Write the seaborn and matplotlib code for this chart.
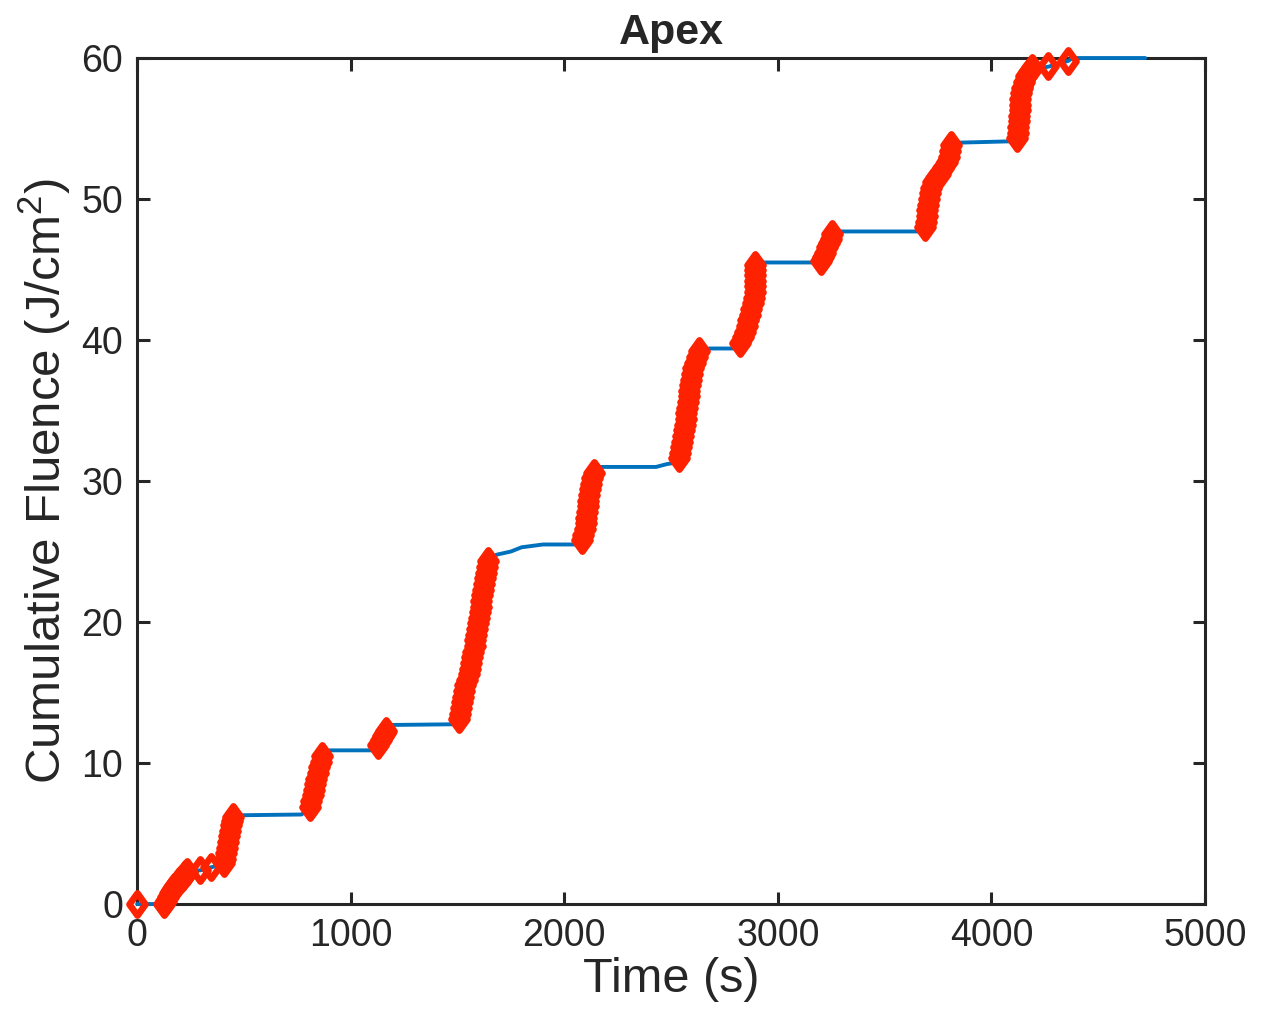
import numpy as np
import pandas as pd
import matplotlib
matplotlib.use("Agg")
import matplotlib.pyplot as plt
from matplotlib.path import Path
import seaborn as sns

# curva acumulada (linha azul)
t_line = [0, 120, 230, 300, 345, 400, 450, 500, 770, 810, 870, 900, 1120, 1165,
          1190, 1490, 1500, 1650, 1690, 1750, 1800, 1900, 2070, 2085, 2140, 2160,
          2430, 2480, 2520, 2540, 2640, 2680, 2800, 2830, 2910, 2940, 3180, 3200,
          3255, 3280, 3660, 3690, 3815, 3850, 4110, 4125, 4210, 4270, 4360, 4380, 4720]
f_line = [0, 0, 2.3, 2.4, 2.6, 2.8, 6.3, 6.3, 6.35, 6.8, 10.7, 10.9, 10.9, 12.3,
          12.7, 12.75, 13.0, 24.6, 24.8, 25.0, 25.3, 25.5, 25.5, 25.6, 30.9, 31.0,
          31.0, 31.2, 31.3, 31.5, 39.3, 39.4, 39.4, 39.5, 45.5, 45.5, 45.5, 45.7,
          47.5, 47.7, 47.7, 48.0, 53.9, 54.0, 54.1, 54.3, 59.2, 59.4, 59.8, 60.0, 60.0]

# pulsos (marcadores vermelhos)
t_pulse = [0,
           125, 135, 145, 155, 165, 175, 185, 195, 205, 215, 225, 235,
           295, 345,
           405, 410, 415, 420, 425, 430, 435, 440, 445, 450,
           810, 815, 822, 828, 832, 838, 845, 852, 860, 868,
           1130, 1140, 1150, 1160, 1165,
           1505, 1510, 1515, 1520, 1525, 1530, 1537, 1545, 1552, 1558, 1565, 1570,
           1575, 1580, 1584, 1588, 1592, 1596, 1600, 1604, 1608, 1612, 1616, 1620,
           1625, 1630, 1635, 1640, 1645,
           2085, 2090, 2095, 2100, 2103, 2106, 2110, 2113, 2117, 2120, 2125, 2130, 2137,
           2535, 2540, 2545, 2552, 2558, 2562, 2565, 2568, 2572, 2575, 2578, 2582,
           2586, 2590, 2595, 2600, 2605, 2612, 2620, 2630,
           2825, 2835, 2845, 2855, 2862, 2868, 2875, 2885, 2890, 2892, 2893, 2893,
           2893, 2894, 2895,
           3200, 3210, 3220, 3230, 3240, 3250, 3255,
           3690, 3693, 3697, 3700, 3703, 3706, 3710, 3715, 3725, 3740, 3760, 3775,
           3790, 3800, 3805, 3810,
           4118, 4122, 4125, 4128, 4130, 4132, 4134, 4136, 4140, 4145, 4152, 4162,
           4175, 4190,
           4265, 4360]
f_pulse = [0,
           0.0, 0.2, 0.5, 0.8, 1.0, 1.2, 1.4, 1.6, 1.8, 1.9, 2.1, 2.3,
           2.4, 2.6,
           2.9, 3.2, 3.6, 4.0, 4.4, 4.8, 5.2, 5.6, 5.9, 6.2,
           6.9, 7.3, 7.7, 8.1, 8.5, 8.9, 9.3, 9.7, 10.1, 10.5,
           11.3, 11.6, 11.9, 12.1, 12.3,
           13.1, 13.5, 13.9, 14.3, 14.7, 15.1, 15.5, 15.9, 16.3, 16.7, 17.1, 17.5,
           17.9, 18.3, 18.7, 19.1, 19.5, 19.9, 20.3, 20.7, 21.1, 21.5, 21.9, 22.3,
           22.7, 23.1, 23.5, 23.9, 24.3,
           25.8, 26.2, 26.6, 27.0, 27.4, 27.8, 28.2, 28.6, 29.0, 29.4, 29.8, 30.2, 30.6,
           31.6, 32.0, 32.4, 32.8, 33.2, 33.6, 34.0, 34.4, 34.8, 35.2, 35.6, 36.0,
           36.4, 36.8, 37.2, 37.6, 38.0, 38.4, 38.8, 39.2,
           39.8, 40.2, 40.6, 41.0, 41.4, 41.8, 42.2, 42.6, 43.0, 43.4, 43.8, 44.2,
           44.6, 45.0, 45.3,
           45.6, 45.9, 46.2, 46.6, 46.9, 47.2, 47.5,
           48.0, 48.4, 48.8, 49.2, 49.6, 50.0, 50.4, 50.8, 51.2, 51.5, 51.8, 52.2,
           52.6, 53.0, 53.4, 53.8,
           54.3, 54.7, 55.1, 55.5, 55.9, 56.3, 56.7, 57.1, 57.5, 57.9, 58.3, 58.7,
           59.0, 59.3,
           59.4, 59.8]

x_ticks = [0, 1000, 2000, 3000, 4000, 5000]
y_ticks = [0, 10, 20, 30, 40, 50, 60]

line_df = pd.DataFrame({"Time": t_line, "Fluence": f_line})
pulse_df = pd.DataFrame({"Time": t_pulse, "Fluence": f_pulse})

sns.set_style("ticks")
plt.rcParams["font.family"] = ["Liberation Sans", "DejaVu Sans"]
plt.rcParams["mathtext.fontset"] = "custom"
plt.rcParams["mathtext.rm"] = "Liberation Sans"
plt.rcParams["mathtext.default"] = "regular"

fig = plt.figure(figsize=(12.69, 10.11), dpi=100)
ax = fig.add_axes([0.108, 0.1058, 0.8416, 0.8368])

# diamante um pouco mais alto que largo (estilo MATLAB)
diamond = Path([(0, 1), (0.72, 0), (0, -1), (-0.72, 0), (0, 1)],
               [Path.MOVETO, Path.LINETO, Path.LINETO, Path.LINETO, Path.CLOSEPOLY])

sns.lineplot(data=line_df, x="Time", y="Fluence", estimator=None, sort=False,
             color="#0072BD", linewidth=2.8, ax=ax, clip_on=False, zorder=3)
sns.lineplot(data=pulse_df, x="Time", y="Fluence", estimator=None, sort=False,
             linestyle="none", marker=diamond, markersize=16,
             markerfacecolor="none", markeredgecolor="#FF2200", markeredgewidth=4.8,
             ax=ax, clip_on=False, zorder=4)

ax.set_xlim(0, 5000)
ax.set_ylim(0, 60)
ax.set_xticks(x_ticks)
ax.set_yticks(y_ticks)
for s in ax.spines.values():
    s.set_linewidth(2.2)
    s.set_color("#262626")
ax.tick_params(direction="in", length=9, width=2.2, top=True, right=True,
               labelsize=27, colors="#262626", pad=10)

ax.set_xlabel("Time (s)", fontsize=35, labelpad=2)
ax.set_ylabel("Cumulative Fluence (J/cm$^2$)", fontsize=35.5, labelpad=6)
ax.set_title("Apex", fontsize=31, fontweight="bold", pad=10)

fig.savefig("out.png", dpi=100)
